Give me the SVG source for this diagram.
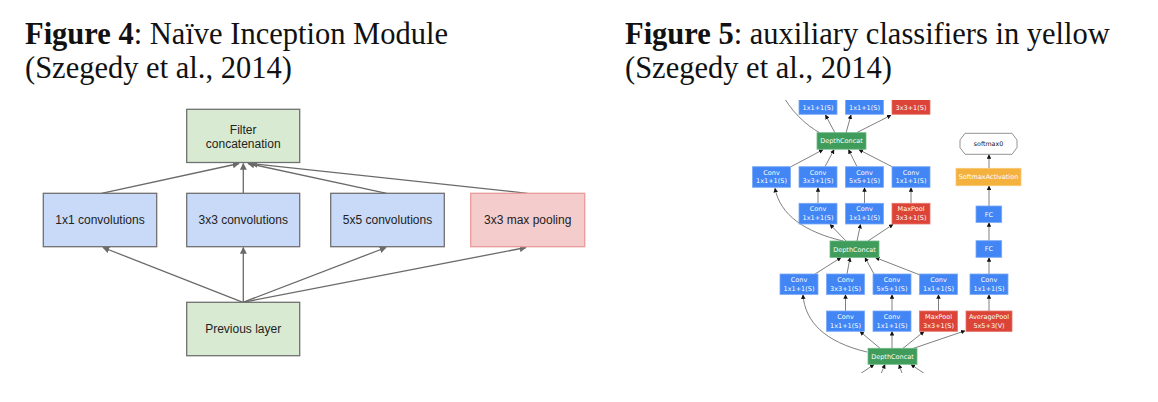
<svg xmlns="http://www.w3.org/2000/svg" width="1158" height="402" viewBox="0 0 1158 402">
<style>
.title{font-family:"Liberation Serif","Times New Roman",serif;font-size:30.5px;fill:#111}
.b{font-weight:bold}
.lt{font-family:"Liberation Sans",Arial,sans-serif;font-size:12px;fill:#222;text-anchor:middle}
.gbox{fill:#d9ead3;stroke:#707070;stroke-width:1.3}
.bbox{fill:#c9daf8;stroke:#707070;stroke-width:1.3}
.pbox{fill:#f4cccc;stroke:#ea9a9a;stroke-width:1.3}
.le{stroke:#6a6a6a;stroke-width:1.3;fill:none;marker-end:url(#ah1)}
.rt{font-family:"DejaVu Sans",Verdana,sans-serif;font-size:6.5px;fill:#fff;text-anchor:middle}
.rtk{font-family:"DejaVu Sans",Verdana,sans-serif;font-size:6.3px;fill:#111;text-anchor:middle}
.cv{fill:#4285f4;stroke:#79a9f7;stroke-width:0.8}
.mp{fill:#db4437;stroke:#e6776d;stroke-width:0.8}
.dc{fill:#3f9c5a;stroke:#6fba86;stroke-width:0.8}
.ya{fill:#f4b13e;stroke:#f7c875;stroke-width:0.8}
.re{stroke:#555;stroke-width:0.75;fill:none;marker-end:url(#ah2)}
</style>
<defs>
<marker id="ah1" viewBox="0 0 10 10" refX="9" refY="5" markerUnits="userSpaceOnUse" markerWidth="7" markerHeight="7" orient="auto">
<path d="M0,0 L10,5 L0,10 z" fill="#6a6a6a"/>
</marker>
<marker id="ah2" viewBox="0 0 10 10" refX="9" refY="5" markerUnits="userSpaceOnUse" markerWidth="4.5" markerHeight="4.5" orient="auto">
<path d="M0,0 L10,5 L0,10 z" fill="#111"/>
</marker>
<clipPath id="rclip"><rect x="730" y="100" width="310" height="273"/></clipPath>
</defs>
<rect width="1158" height="402" fill="#fff"/>

<g id="titles">
<text class="title" x="25" y="44"><tspan class="b">Figure 4</tspan>: Naïve Inception Module</text>
<text class="title" x="25" y="78">(Szegedy et al., 2014)</text>
<text class="title" x="625" y="44"><tspan class="b">Figure 5</tspan>: auxiliary classifiers in yellow</text>
<text class="title" x="625" y="78">(Szegedy et al., 2014)</text>
</g>

<!-- Figure 4 connectors -->
<g id="fig4-connectors">
<line class="le" x1="101.5" y1="193.3" x2="239" y2="163.5"/>
<line class="le" x1="243.3" y1="193.3" x2="243.3" y2="163.5"/>
<line class="le" x1="386.7" y1="193.3" x2="248" y2="163.5"/>
<line class="le" x1="527.5" y1="193.3" x2="251" y2="163.5"/>
<line class="le" x1="243" y1="302.3" x2="103" y2="247.5"/>
<line class="le" x1="243.3" y1="302.3" x2="243.3" y2="247.5"/>
<line class="le" x1="243" y1="302.3" x2="386" y2="247.5"/>
<line class="le" x1="243" y1="302.3" x2="526" y2="247.5"/>
</g>

<g id="filter-concat">
<rect class="gbox" x="186.7" y="109.3" width="113" height="53.2"/>
<text class="lt" x="243.2" y="134">Filter</text>
<text class="lt" x="243.2" y="147.5">concatenation</text>
</g>
<g id="conv1x1">
<rect class="bbox" x="43.3" y="193.3" width="113.4" height="53.4"/>
<text class="lt" x="100" y="224.3">1x1 convolutions</text>
</g>
<g id="conv3x3">
<rect class="bbox" x="186.7" y="193.3" width="113" height="53.4"/>
<text class="lt" x="243.2" y="224.3">3x3 convolutions</text>
</g>
<g id="conv5x5">
<rect class="bbox" x="330.7" y="193.3" width="113.6" height="53.4"/>
<text class="lt" x="387.5" y="224.3">5x5 convolutions</text>
</g>
<g id="maxpool3x3">
<rect class="pbox" x="470.7" y="193.3" width="114" height="53.4"/>
<text class="lt" x="527.7" y="224.3">3x3 max pooling</text>
</g>
<g id="previous-layer">
<rect class="gbox" x="186.7" y="302.3" width="113" height="53.4"/>
<text class="lt" x="243.2" y="333.3">Previous layer</text>
</g>

<!-- Figure 5 -->
<g clip-path="url(#rclip)">
<g id="fig5-connectors">
<path class="re" d="M820,133 C806,125 790,111 780,90"/>
<line class="re" x1="835" y1="133" x2="825.5" y2="115"/>
<line class="re" x1="846" y1="133" x2="851" y2="115"/>
<line class="re" x1="857" y1="132.5" x2="891" y2="115.3"/>
<line class="re" x1="791" y1="166.7" x2="823" y2="149.7"/>
<line class="re" x1="825" y1="166.7" x2="834" y2="149.7"/>
<line class="re" x1="857" y1="166.7" x2="848.5" y2="149.7"/>
<line class="re" x1="892" y1="166.7" x2="859" y2="149.7"/>
<line class="re" x1="818" y1="203.3" x2="818" y2="187.7"/>
<line class="re" x1="864.5" y1="203.3" x2="864.5" y2="187.7"/>
<line class="re" x1="911" y1="203.3" x2="911" y2="187.7"/>
<path class="re" d="M843,241 C805,232 780,215 775,188.3"/>
<line class="re" x1="846" y1="241" x2="830" y2="224.4"/>
<line class="re" x1="857" y1="241" x2="860.5" y2="224.4"/>
<line class="re" x1="868" y1="241" x2="893" y2="224.4"/>
<line class="re" x1="815" y1="274" x2="841" y2="257.6"/>
<line class="re" x1="847" y1="274" x2="850" y2="257.6"/>
<line class="re" x1="874" y1="274" x2="865" y2="257.6"/>
<line class="re" x1="920" y1="275" x2="875.5" y2="257.6"/>
<line class="re" x1="845.5" y1="311" x2="845.5" y2="294.6"/>
<line class="re" x1="892" y1="311" x2="892" y2="294.6"/>
<line class="re" x1="938.5" y1="311" x2="938.5" y2="294.6"/>
<line class="re" x1="989" y1="311" x2="989" y2="294.6"/>
<line class="re" x1="989" y1="274" x2="989" y2="257.6"/>
<line class="re" x1="989" y1="240.7" x2="989" y2="222.6"/>
<line class="re" x1="989" y1="206" x2="989" y2="186"/>
<line class="re" x1="989" y1="168.3" x2="989" y2="154.6"/>
<path class="re" d="M867,352 C825,342 805,322 803,294.8"/>
<line class="re" x1="880" y1="348.3" x2="860" y2="331.5"/>
<line class="re" x1="892" y1="348.3" x2="892" y2="331.5"/>
<line class="re" x1="903" y1="348.3" x2="924" y2="331.5"/>
<line class="re" x1="911.5" y1="349" x2="965" y2="330.8"/>
<line class="re" x1="857" y1="376" x2="874" y2="364.5"/>
<line class="re" x1="880" y1="376" x2="885" y2="364.5"/>
<line class="re" x1="903" y1="376" x2="899" y2="364.5"/>
<line class="re" x1="928" y1="376" x2="911" y2="364.5"/>
</g>

<g id="top-conv-a"><rect class="cv" x="799" y="93.8" width="38" height="20.5"/><text class="rt" x="818" y="110.3">1x1+1(S)</text></g>
<g id="top-conv-b"><rect class="cv" x="845.5" y="93.8" width="38" height="20.5"/><text class="rt" x="864.5" y="110.3">1x1+1(S)</text></g>
<g id="top-maxpool"><rect class="mp" x="892" y="93.8" width="38" height="20.5"/><text class="rt" x="911" y="110.3">3x3+1(S)</text></g>
</g>

<g id="dc-top"><rect class="dc" x="817" y="132.7" width="49" height="16.5"/><text class="rt" x="841.5" y="143.3">DepthConcat</text></g>

<g id="r2-conv1"><rect class="cv" x="752.5" y="166.7" width="38" height="20.6"/><text class="rt" x="771.5" y="174.7">Conv</text><text class="rt" x="771.5" y="183.3">1x1+1(S)</text></g>
<g id="r2-conv2"><rect class="cv" x="799" y="166.7" width="38" height="20.6"/><text class="rt" x="818" y="174.7">Conv</text><text class="rt" x="818" y="183.3">3x3+1(S)</text></g>
<g id="r2-conv3"><rect class="cv" x="845.5" y="166.7" width="38" height="20.6"/><text class="rt" x="864.5" y="174.7">Conv</text><text class="rt" x="864.5" y="183.3">5x5+1(S)</text></g>
<g id="r2-conv4"><rect class="cv" x="892" y="166.7" width="38" height="20.6"/><text class="rt" x="911" y="174.7">Conv</text><text class="rt" x="911" y="183.3">1x1+1(S)</text></g>

<g id="r3-conv1"><rect class="cv" x="799" y="203.3" width="38" height="20.7"/><text class="rt" x="818" y="211.3">Conv</text><text class="rt" x="818" y="219.9">1x1+1(S)</text></g>
<g id="r3-conv2"><rect class="cv" x="845.5" y="203.3" width="38" height="20.7"/><text class="rt" x="864.5" y="211.3">Conv</text><text class="rt" x="864.5" y="219.9">1x1+1(S)</text></g>
<g id="r3-maxpool"><rect class="mp" x="892" y="203.3" width="38" height="20.7"/><text class="rt" x="911" y="211.3">MaxPool</text><text class="rt" x="911" y="219.9">3x3+1(S)</text></g>

<g id="dc-mid"><rect class="dc" x="830" y="241" width="49" height="16.4"/><text class="rt" x="854.5" y="251.6">DepthConcat</text></g>

<g id="r4-conv1"><rect class="cv" x="780" y="274" width="38" height="20.4"/><text class="rt" x="799" y="282">Conv</text><text class="rt" x="799" y="290.5">1x1+1(S)</text></g>
<g id="r4-conv2"><rect class="cv" x="826.5" y="274" width="38" height="20.4"/><text class="rt" x="845.5" y="282">Conv</text><text class="rt" x="845.5" y="290.5">3x3+1(S)</text></g>
<g id="r4-conv3"><rect class="cv" x="873" y="274" width="38" height="20.4"/><text class="rt" x="892" y="282">Conv</text><text class="rt" x="892" y="290.5">5x5+1(S)</text></g>
<g id="r4-conv4"><rect class="cv" x="919.5" y="274" width="38" height="20.4"/><text class="rt" x="938.5" y="282">Conv</text><text class="rt" x="938.5" y="290.5">1x1+1(S)</text></g>
<g id="aux-conv"><rect class="cv" x="970" y="274" width="38" height="20.4"/><text class="rt" x="989" y="282">Conv</text><text class="rt" x="989" y="290.5">1x1+1(S)</text></g>

<g id="r5-conv1"><rect class="cv" x="826.5" y="311" width="38" height="20.3"/><text class="rt" x="845.5" y="319">Conv</text><text class="rt" x="845.5" y="327.5">1x1+1(S)</text></g>
<g id="r5-conv2"><rect class="cv" x="873" y="311" width="38" height="20.3"/><text class="rt" x="892" y="319">Conv</text><text class="rt" x="892" y="327.5">1x1+1(S)</text></g>
<g id="r5-maxpool"><rect class="mp" x="919.5" y="311" width="38" height="20.3"/><text class="rt" x="938.5" y="319">MaxPool</text><text class="rt" x="938.5" y="327.5">3x3+1(S)</text></g>
<g id="aux-avgpool"><rect class="mp" x="966" y="311" width="46" height="20.5"/><text class="rt" x="989" y="319">AveragePool</text><text class="rt" x="989" y="327.5">5x5+3(V)</text></g>

<g id="dc-bottom"><rect class="dc" x="868" y="348.3" width="49" height="16"/><text class="rt" x="892.5" y="358.7">DepthConcat</text></g>

<g id="aux-fc1"><rect class="cv" x="976" y="240.7" width="25.7" height="16.6"/><text class="rt" x="988.9" y="251.3">FC</text></g>
<g id="aux-fc2"><rect class="cv" x="976" y="206" width="25.7" height="16.4"/><text class="rt" x="988.9" y="216.5">FC</text></g>
<g id="aux-softmaxact"><rect class="ya" x="956" y="168.3" width="65" height="17.4"/><text class="rt" x="988.5" y="179.3">SoftmaxActivation</text></g>
<g id="aux-softmax0"><polygon points="965,133.3 1012,133.3 1017,140 1017,147.6 1012,154.3 965,154.3 960,147.6 960,140" fill="#fff" stroke="#777" stroke-width="0.8"/><text class="rtk" x="988.5" y="146">softmax0</text></g>
</svg>
